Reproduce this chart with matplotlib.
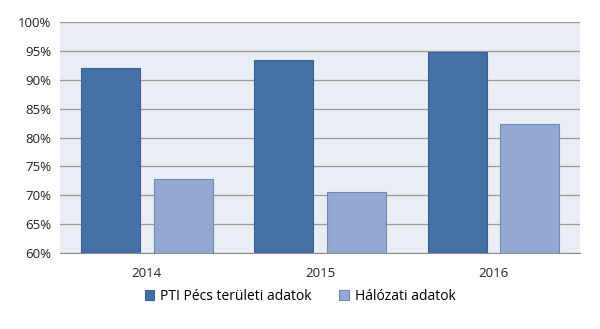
import matplotlib
matplotlib.use("Agg")
import matplotlib.pyplot as plt
import numpy as np
from matplotlib.ticker import FuncFormatter

categories = ["2014", "2015", "2016"]
series_names = ["PTI Pécs területi adatok", "Hálózati adatok"]
pti_values = [92.0, 93.5, 94.8]
halozati_values = [72.8, 70.5, 82.3]
colors = ["#4470A5", "#93A9D1"]

plt.rcParams['font.family'] = ['Open Sans', 'DejaVu Sans']
fig = plt.figure(figsize=(6, 3.29), dpi=100)
ax = fig.add_axes([0.1, 0.231, 0.867, 0.702])
ax.set_facecolor("#E9EDF4")

x = np.arange(len(categories))
w = 0.34
off = 0.21
ax.bar(x - off, pti_values, w, color=colors[0], edgecolor="#3A6293", linewidth=0.8,
       label=series_names[0], zorder=3)
ax.bar(x + off, halozati_values, w, color=colors[1], edgecolor="#6F89B5", linewidth=0.8,
       label=series_names[1], zorder=3)

ax.set_ylim(60, 100)
ax.set_xlim(-0.5, 2.5)
ax.set_yticks(np.arange(60, 101, 5))
ax.yaxis.set_major_formatter(FuncFormatter(lambda v, p: f"{int(v)}%"))
ax.set_xticks(x)
ax.set_xticklabels(categories)
ax.grid(axis="y", color="#999999", linewidth=0.9, zorder=1)
for s in ["top", "right", "left"]:
    ax.spines[s].set_visible(False)
ax.spines["bottom"].set_color("#8C8C8C")
ax.tick_params(axis="both", length=0, labelsize=9.5, colors="#222222")
ax.tick_params(axis="x", pad=10)
ax.tick_params(axis="y", pad=6)

leg = fig.legend(loc="center", bbox_to_anchor=(0.5, 0.1), ncol=2, frameon=False,
                 fontsize=10, handlelength=0.7, handleheight=0.7, columnspacing=2.0,
                 handletextpad=0.4)
fig.savefig("out.png", dpi=100)
